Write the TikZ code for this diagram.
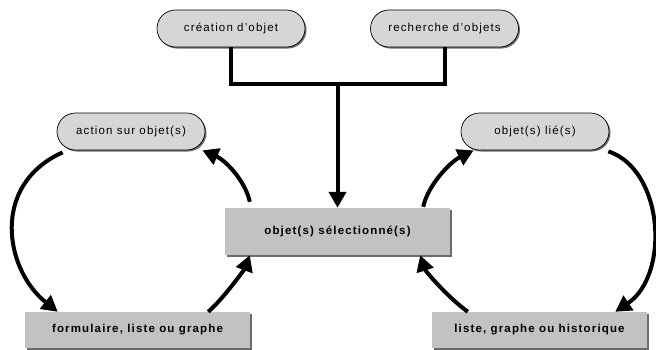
\documentclass[tikz,border=0pt]{standalone}
\usepackage{fontspec}
\setmainfont{Liberation Sans}
\usepackage{xcolor}
\usetikzlibrary{arrows.meta,shadows}
\definecolor{boxgray}{gray}{0.76}
\definecolor{pillgray}{gray}{0.84}
\definecolor{shadegray}{gray}{0.42}

\begin{document}
\begin{tikzpicture}[x=1pt,y=-1pt,>={Triangle[length=16pt,width=17pt]},
 pill/.style={draw=black,line width=0.7pt,fill=pillgray,rounded corners=18.5pt,minimum width=148pt,minimum height=37pt,inner sep=0pt,font=\fontsize{11.5}{13}\selectfont\addfontfeature{LetterSpace=10},drop shadow={shadow xshift=1.5pt,shadow yshift=-1.5pt,fill=shadegray,opacity=1}},
 box/.style={fill=boxgray,minimum width=225pt,minimum height=36pt,inner sep=0pt,font=\fontsize{11.5}{13}\selectfont\bfseries\addfontfeature{LetterSpace=10},drop shadow={shadow xshift=2pt,shadow yshift=-2pt,fill=shadegray,opacity=1}},
 arrow/.style={->,line width=4pt},
 link/.style={line width=4pt,line join=miter}]
\useasboundingbox (0,0) rectangle (656,349);
\node[pill] (cre) at (231,28.5) {création d’objet};
\node[pill] (rec) at (444.5,28.5) {recherche d’objets};
\node[pill] (act) at (131,131.5) {action sur objet(s)};
\node[pill] (lie) at (535,131.5) {objet(s) lié(s)};
\node[box,minimum height=47pt] (sel) at (337.5,231.5) {objet(s) sélectionné(s)};
\node[box] (form) at (137.5,330) {formulaire, liste ou graphe};
\node[box,minimum width=215pt] (list) at (539.5,330) {liste, graphe ou historique};
\coordinate (jn) at (337.5,84);
% creation / recherche -> selection
\draw[link] (cre.south) |- (jn) -| (rec.south);
\draw[arrow] (jn) -- (sel.north);
% left loop
\draw[arrow] ([xshift=6pt,yshift=-2pt]act.south west) .. controls (-10,185) and (5,270) .. ([xshift=33pt]form.north west);
\draw[arrow] ([xshift=-42pt]form.north east) .. controls (225,297) and (245,268) .. ([xshift=25pt]sel.south west);
\draw[arrow] ([xshift=25pt,yshift=6pt]sel.north west) .. controls (245,180) and (225,160) .. ([xshift=-3pt]act.south east);
% right loop
\draw[arrow] ([xshift=-27pt,yshift=1pt]sel.north east) .. controls (428,185) and (450,162) .. ([xshift=13pt]lie.south west);
\draw[arrow] ([xshift=-1pt,yshift=-1pt]lie.south east) .. controls (664,170) and (670,275) .. ([xshift=-32pt]list.north east);
\draw[arrow] ([xshift=36pt]list.north west) .. controls (445,295) and (425,270) .. ([xshift=-30pt]sel.south east);
\end{tikzpicture}
\end{document}
